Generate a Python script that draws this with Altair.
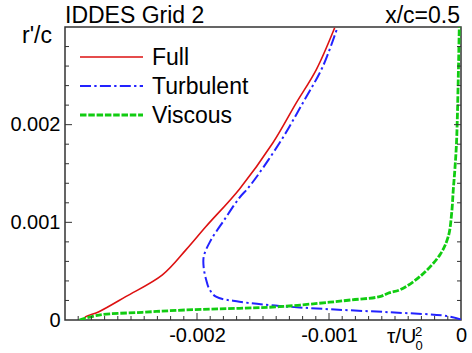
import altair as alt
import pandas as pd
import numpy as np

FONT = "Liberation Sans"

# ---- data ----
series_names = ["Full", "Turbulent", "Viscous"]
series_colors = ["#dd1111", "#2222ff", "#11cc11"]

full_x = [-0.00286, -0.002842, -0.002743, -0.002540, -0.002262, -0.002084, -0.001932,
          -0.001679, -0.001426, -0.001248, -0.001096, -0.000957]
full_y = [0.0, 0.000034, 0.000085, 0.000239, 0.000462, 0.000718, 0.000957,
          0.00134, 0.001812, 0.002223, 0.002564, 0.002992]

turb_x = [0.0, -0.000109, -0.00054, -0.000995, -0.001375, -0.001679, -0.001856,
          -0.001907, -0.00193, -0.001949, -0.001949, -0.0019, -0.001793, -0.001679,
          -0.001603, -0.001375, -0.001198, -0.001046, -0.000937]
turb_y = [0.000005, 0.000041, 0.000079, 0.00011, 0.000144, 0.000188, 0.000239,
          0.000318, 0.00041, 0.000533, 0.000649, 0.000805, 0.001026, 0.001251,
          0.001367, 0.001812, 0.002223, 0.002598, 0.002992]

visc_x = [-0.00289, -0.002743, -0.002414, -0.002084, -0.001679, -0.001375, -0.000995,
          -0.000836, -0.000616, -0.00054, -0.000464, -0.000312, -0.00016, -0.0000965,
          -0.0000707, -0.0000585, -0.000046, -0.000033, -0.000013]
visc_y = [0.0, 0.000051, 0.000079, 0.000103, 0.00012, 0.000136, 0.000182,
          0.000205, 0.000239, 0.00028, 0.000308, 0.000444, 0.000667, 0.000854,
          0.001094, 0.001333, 0.00155, 0.001846, 0.003]

x_label_values = [-0.002, -0.001, 0.0]
y_label_values = [0.0, 0.001, 0.002]
x_major_ticks = [-0.002, -0.001]
y_major_ticks = [0.001, 0.002]
x_minor_ticks = [v for v in np.round(np.arange(-0.0029, 0.0, 0.0001), 5).tolist()
                 if min(abs(v - m) for m in x_major_ticks) > 1e-7]
y_minor_ticks = [v for v in np.round(np.arange(0.0002, 0.003, 0.0002), 5).tolist()
                 if min(abs(v - m) for m in y_major_ticks) > 1e-7]

title_left = "IDDES Grid 2"
title_right = "x/c=0.5"
y_title = "r'/c"

W, H = 396, 293
xs = alt.Scale(domain=[-0.003, 0.0], nice=False, zero=False)
ys = alt.Scale(domain=[0.0, 0.003], nice=False, zero=False)

x_axis = alt.Axis(values=x_label_values, ticks=False, domain=False, grid=False,
                  labelFontSize=20, labelFont=FONT, labelColor="black", labelPadding=5,
                  labelFlush=False, labelOverlap=False, title=None,
                  labelExpr="datum.value == 0 ? '0' : (datum.value < 0 ? '-' : '') + format(abs(datum.value), '.3f')")
y_axis = alt.Axis(values=y_label_values, ticks=False, domain=False, grid=False,
                  labelFontSize=20, labelFont=FONT, labelColor="black", labelPadding=5,
                  labelFlush=False, labelOverlap=False, title=None,
                  labelExpr="datum.value == 0 ? '0' : format(datum.value, '.3f')")

layers = []

# ---- curves (first, they carry the axes) ----
curve_data = [(full_x, full_y), (turb_x, turb_y), (visc_x, visc_y)]
dashes = [[1, 0], [11, 3.3, 2.3, 3.3], [6.5, 1.8]]
widths = [1.6, 2.0, 2.8]
legend_layers = []

for k, ((xv, yv), name, color, dash, wdt) in enumerate(zip(curve_data, series_names,
                                                          series_colors, dashes, widths)):
    df = pd.DataFrame({"x": xv, "y": yv, "i": list(range(len(xv)))})
    mk = dict(color=color, strokeWidth=wdt, clip=True, interpolate="catmull-rom")
    if k > 0:
        mk["strokeDash"] = dash
    layers.append(alt.Chart(df).mark_line(**mk).encode(
        x=alt.X("x:Q", scale=xs, axis=x_axis),
        y=alt.Y("y:Q", scale=ys, axis=y_axis),
        order=alt.Order("i:Q"),
    ))

    # legend entry
    ly = 30 + 29 * k
    rk = dict(color=color, strokeWidth=wdt)
    if k > 0:
        rk["strokeDash"] = dash
    leg_df = pd.DataFrame({"name": [name]})
    legend_layers.append(alt.Chart(leg_df).mark_rule(**rk).encode(
        x=alt.value(15), x2=alt.value(78), y=alt.value(ly)))
    legend_layers.append(alt.Chart(leg_df).mark_text(
        align="left", baseline="alphabetic", font=FONT, fontSize=23, color="black").encode(
        text="name:N", x=alt.value(87), y=alt.value(ly + 8)))

# ---- inward ticks ----
def tick_layer(vals, orient, length):
    df = pd.DataFrame({"v": vals})
    base = alt.Chart(df).mark_rule(color="#333", strokeWidth=1)
    if orient == "bottom":
        return base.encode(x=alt.X("v:Q", scale=xs, axis=x_axis),
                           y=alt.value(H), y2=alt.value(H - length))
    if orient == "left":
        return base.encode(y=alt.Y("v:Q", scale=ys, axis=y_axis),
                           x=alt.value(0), x2=alt.value(length))
    return base.encode(y=alt.Y("v:Q", scale=ys, axis=y_axis),
                       x=alt.value(W), x2=alt.value(W - length))

layers += [
    tick_layer(x_major_ticks, "bottom", 7), tick_layer(x_minor_ticks, "bottom", 4),
    tick_layer(y_major_ticks, "left", 7), tick_layer(y_minor_ticks, "left", 4),
    tick_layer(y_major_ticks, "right", 7), tick_layer(y_minor_ticks, "right", 4),
]
layers += legend_layers

# ---- annotations ----
def text_layer(t, x, y, align, size):
    return alt.Chart(pd.DataFrame({"t": [t]})).mark_text(
        align=align, baseline="alphabetic", font=FONT, fontSize=size, color="black").encode(
        text="t:N", x=alt.value(x), y=alt.value(y))

layers += [
    text_layer(title_left, 0, -4, "left", 23),
    text_layer(title_right, 395, -4, "right", 23),
    text_layer(y_title, -13, 16, "right", 23),
    text_layer("\u03c4/U", 322, 316, "left", 21),
    text_layer("2", 350, 309, "left", 13),
    text_layer("0", 350.5, 323, "left", 13),
]

chart = alt.layer(*layers).properties(
    width=W, height=H,
    autosize=alt.AutoSizeParams(type="none"),
    padding={"left": 65, "top": 27, "right": 11, "bottom": 33},
).configure_view(stroke="#333", strokeWidth=1.5)

chart.save("out.html", embed_options={"renderer": "svg", "actions": False})
